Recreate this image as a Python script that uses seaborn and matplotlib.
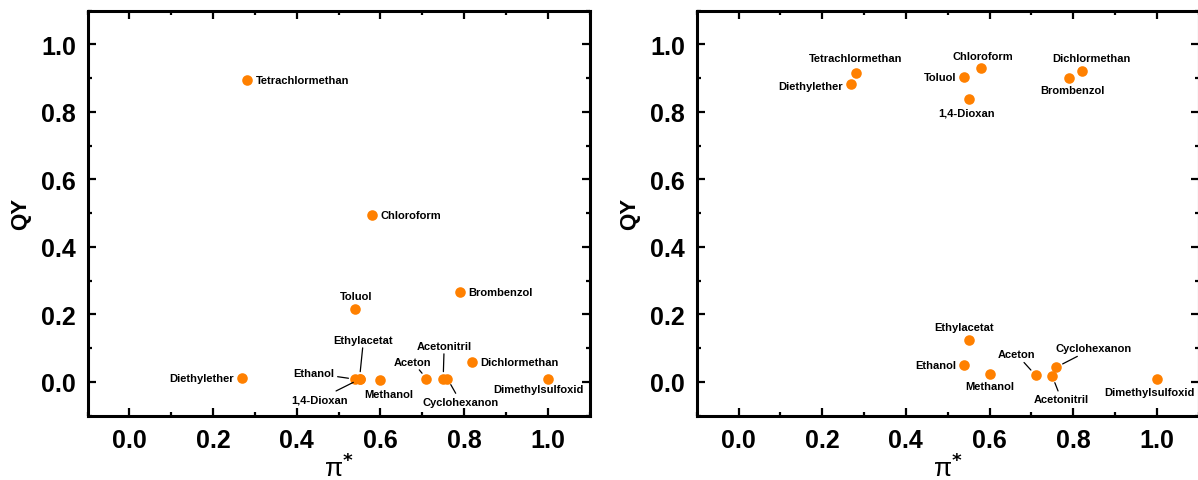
import matplotlib
matplotlib.use("Agg")
import matplotlib.pyplot as plt
from matplotlib.ticker import MultipleLocator
import pandas as pd
import seaborn as sns

# values (pi* is the same for both)
solvents = ["Diethylether", "Tetrachlormethan", "Toluol", "Ethanol", "Ethylacetat",
            "1,4-Dioxan", "Chloroform", "Methanol", "Aceton", "Acetonitril",
            "Cyclohexanon", "Brombenzol", "Dichlormethan", "Dimethylsulfoxid"]
pi_star = [0.27, 0.28, 0.54, 0.54, 0.55, 0.55, 0.58, 0.60, 0.71, 0.75, 0.76, 0.79, 0.82, 1.00]
qy_left = [0.013, 0.895, 0.217, 0.008, 0.010, 0.008, 0.496, 0.007, 0.010, 0.010,
           0.010, 0.266, 0.059, 0.008]
qy_right = [0.883, 0.916, 0.903, 0.049, 0.125, 0.839, 0.930, 0.024, 0.020, 0.017,
            0.044, 0.900, 0.922, 0.010]
x_ticks = [0.0, 0.2, 0.4, 0.6, 0.8, 1.0]
y_ticks = [0.0, 0.2, 0.4, 0.6, 0.8, 1.0]

# label placement: (dx px, dy px, ha, leader line)
left_labels = {
    "Diethylether": (-9, 0, "right", False),
    "Tetrachlormethan": (9, 0, "left", False),
    "Toluol": (1, 13, "center", False),
    "Ethanol": (-21, 6, "right", True),
    "Ethylacetat": (4, 39, "center", True),
    "1,4-Dioxan": (-40, -20, "center", True),
    "Chloroform": (8, 0, "left", False),
    "Methanol": (8, -14, "center", False),
    "Aceton": (-14, 17, "center", True),
    "Acetonitril": (1, 33, "center", True),
    "Cyclohexanon": (13, -23, "center", True),
    "Brombenzol": (8, 0, "left", False),
    "Dichlormethan": (8, 0, "left", False),
    "Dimethylsulfoxid": (-9, -10, "center", False),
}
right_labels = {
    "Diethylether": (-9, -2, "right", False),
    "Tetrachlormethan": (0, 15, "center", False),
    "Toluol": (-8, 0, "right", False),
    "Ethanol": (-8, 0, "right", False),
    "Ethylacetat": (-5, 13, "center", False),
    "1,4-Dioxan": (-2, -14, "center", False),
    "Chloroform": (2, 12, "center", False),
    "Methanol": (0, -12, "center", False),
    "Aceton": (-19, 21, "center", True),
    "Acetonitril": (9, -23, "center", True),
    "Cyclohexanon": (37, 19, "center", True),
    "Brombenzol": (3, -12, "center", False),
    "Dichlormethan": (10, 13, "center", False),
    "Dimethylsulfoxid": (-7, -13, "center", False),
}

ORANGE = "#FF8000"

sns.set_theme(style="ticks")
plt.rcParams["font.family"] = ["Liberation Sans", "DejaVu Sans"]
plt.rcParams["font.weight"] = "bold"
plt.rcParams["axes.labelweight"] = "bold"
for key in ["text.color", "axes.labelcolor", "xtick.color", "ytick.color", "axes.edgecolor"]:
    plt.rcParams[key] = "black"

df = pd.DataFrame({"solvent": solvents, "pi_star": pi_star,
                   "qy_left": qy_left, "qy_right": qy_right})


def draw_panel(ax, ycol, labels):
    sns.scatterplot(data=df, x="pi_star", y=ycol, ax=ax, color=ORANGE, s=58,
                    linewidth=0, zorder=3, legend=False)
    for _, row in df.iterrows():
        dx, dy, ha, leader = labels[row["solvent"]]
        arrow = None
        if leader:
            arrow = dict(arrowstyle="-", color="black", lw=0.9, shrinkA=0, shrinkB=5)
        ax.annotate(row["solvent"], xy=(row["pi_star"], row[ycol]), xytext=(dx, dy),
                    textcoords="offset pixels", ha=ha, va="center", fontsize=8,
                    fontweight="bold", color="black", arrowprops=arrow,
                    annotation_clip=False, zorder=4)

    ax.set_xlim(-0.1, 1.1)
    ax.set_ylim(-0.1, 1.1)
    ax.set_xticks(x_ticks)
    ax.set_yticks(y_ticks)
    ax.xaxis.set_minor_locator(MultipleLocator(0.1))
    ax.yaxis.set_minor_locator(MultipleLocator(0.1))
    ax.tick_params(which="both", direction="in", top=True, right=True, color="black")
    ax.tick_params(which="major", length=5.5, width=1.6, labelsize=18, pad=8.5,
                   labelcolor="black")
    ax.tick_params(which="minor", length=3, width=1.6)
    for lab in ax.get_xticklabels() + ax.get_yticklabels():
        lab.set_fontweight("bold")
    for sp in ax.spines.values():
        sp.set_linewidth(2.2)
        sp.set_color("black")
    ax.set_xlabel("π$^{*}$", fontsize=19, fontweight="normal", labelpad=1)
    ax.set_ylabel("QY", fontsize=16, fontweight="bold", labelpad=7)
    ax.grid(False)


fig = plt.figure(figsize=(11.98, 4.81), dpi=100)
ax1 = fig.add_axes([87.6 / 1198, 1 - 416.7 / 481, 502 / 1198, 405 / 481])
ax2 = fig.add_axes([696.7 / 1198, 1 - 416.7 / 481, 502 / 1198, 405 / 481])

draw_panel(ax1, "qy_left", left_labels)
draw_panel(ax2, "qy_right", right_labels)

fig.savefig("out.png", dpi=100)
plt.close(fig)
